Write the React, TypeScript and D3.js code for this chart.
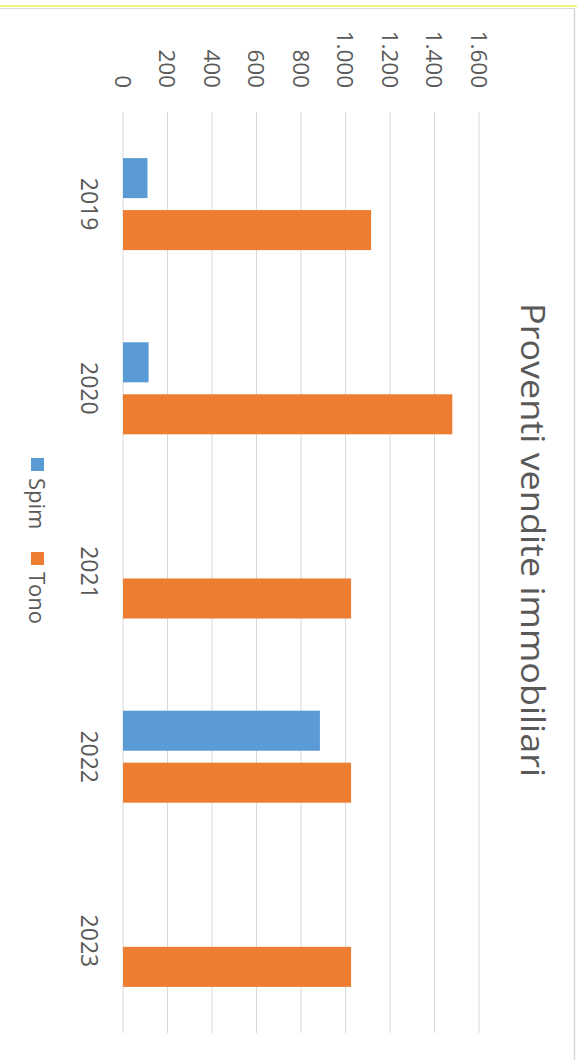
import React from "react";
import * as d3 from "d3";

const categories = ["2019", "2020", "2021", "2022", "2023"];
const seriesNames = ["Spim", "Tono"];
const spimValues = [110, 115, 0, 885, 0];
const tonoValues = [1115, 1480, 1025, 1025, 1025];
const tickValues = [0, 200, 400, 600, 800, 1000, 1200, 1400, 1600];
const colors = ["#5B9BD5", "#ED7D31"];
const title = "Proventi vendite immobiliari";

const W = 581;
const H = 1060;
const FONT = "'Open Sans', 'Noto Sans', sans-serif";
const TEXT = "#595959";

const fmt = (v: number) => d3.format(",")(v).replace(/,/g, ".");

export default function App() {
  const x = d3.scaleLinear().domain([0, 1600]).range([123, 479]);
  const y = d3.scaleBand().domain(categories).range([112, 1033]).padding(0);
  const bw = y.bandwidth();
  const inner = d3
    .scaleBand()
    .domain(seriesNames)
    .range([bw / 2 - 46, bw / 2 + 46])
    .paddingInner(0.23)
    .paddingOuter(0);
  const series = [spimValues, tonoValues];

  return (
    <div style={{ position: "absolute", left: 0, top: 0 }}>
      <svg width={W} height={H} style={{ display: "block", background: "#fff" }}>
        <rect x={0} y={0} width={W} height={H} fill="#fff" />
        {/* outer frame */}
        <line x1={0} x2={577} y1={6} y2={6} stroke="#F2F27A" strokeWidth={2} />
        <line x1={0} x2={575} y1={8.5} y2={8.5} stroke="#D9D9D9" strokeWidth={1} />
        <line x1={574.5} x2={574.5} y1={8} y2={H} stroke="#D9D9D9" strokeWidth={1.5} />

        {/* gridlines */}
        {tickValues.map((t) => (
          <line
            key={"g" + t}
            x1={x(t)}
            x2={x(t)}
            y1={112}
            y2={1033}
            stroke="#D9D9D9"
            strokeWidth={1}
          />
        ))}

        {/* tick labels */}
        {tickValues.map((t) => (
          <text
            key={"t" + t}
            transform={`translate(${x(t)},88) rotate(90)`}
            textAnchor="end"
            dominantBaseline="central"
            fontFamily={FONT}
            fontSize={22.5}
            fill={TEXT}
          >
            {fmt(t)}
          </text>
        ))}

        {/* bars */}
        {categories.map((c, i) => (
          <g key={c} transform={`translate(0,${y(c)})`}>
            {seriesNames.map((s, j) =>
              series[j][i] > 0 ? (
                <rect
                  key={s}
                  x={x(0)}
                  y={inner(s)}
                  width={x(series[j][i]) - x(0)}
                  height={inner.bandwidth()}
                  fill={colors[j]}
                />
              ) : null
            )}
          </g>
        ))}

        {/* category labels */}
        {categories.map((c) => (
          <text
            key={"c" + c}
            transform={`translate(90,${(y(c) as number) + bw / 2}) rotate(90)`}
            textAnchor="middle"
            dominantBaseline="central"
            fontFamily={FONT}
            fontSize={23}
            fill={TEXT}
          >
            {c}
          </text>
        ))}

        {/* legend */}
        {seriesNames.map((s, j) => {
          const ly = j === 0 ? 458 : 552;
          return (
            <g key={"l" + s}>
              <rect x={31} y={ly} width={13} height={13} fill={colors[j]} />
              <text
                transform={`translate(38,${ly + 20}) rotate(90)`}
                textAnchor="start"
                dominantBaseline="central"
                fontFamily={FONT}
                fontSize={22}
                fill={TEXT}
              >
                {s}
              </text>
            </g>
          );
        })}

        {/* title */}
        <text
          transform={`translate(533,540) rotate(90)`}
          textAnchor="middle"
          dominantBaseline="central"
          fontFamily={FONT}
          fontSize={32}
          textLength={474}
          lengthAdjust="spacingAndGlyphs"
          fill={TEXT}
        >
          {title}
        </text>
      </svg>
    </div>
  );
}
